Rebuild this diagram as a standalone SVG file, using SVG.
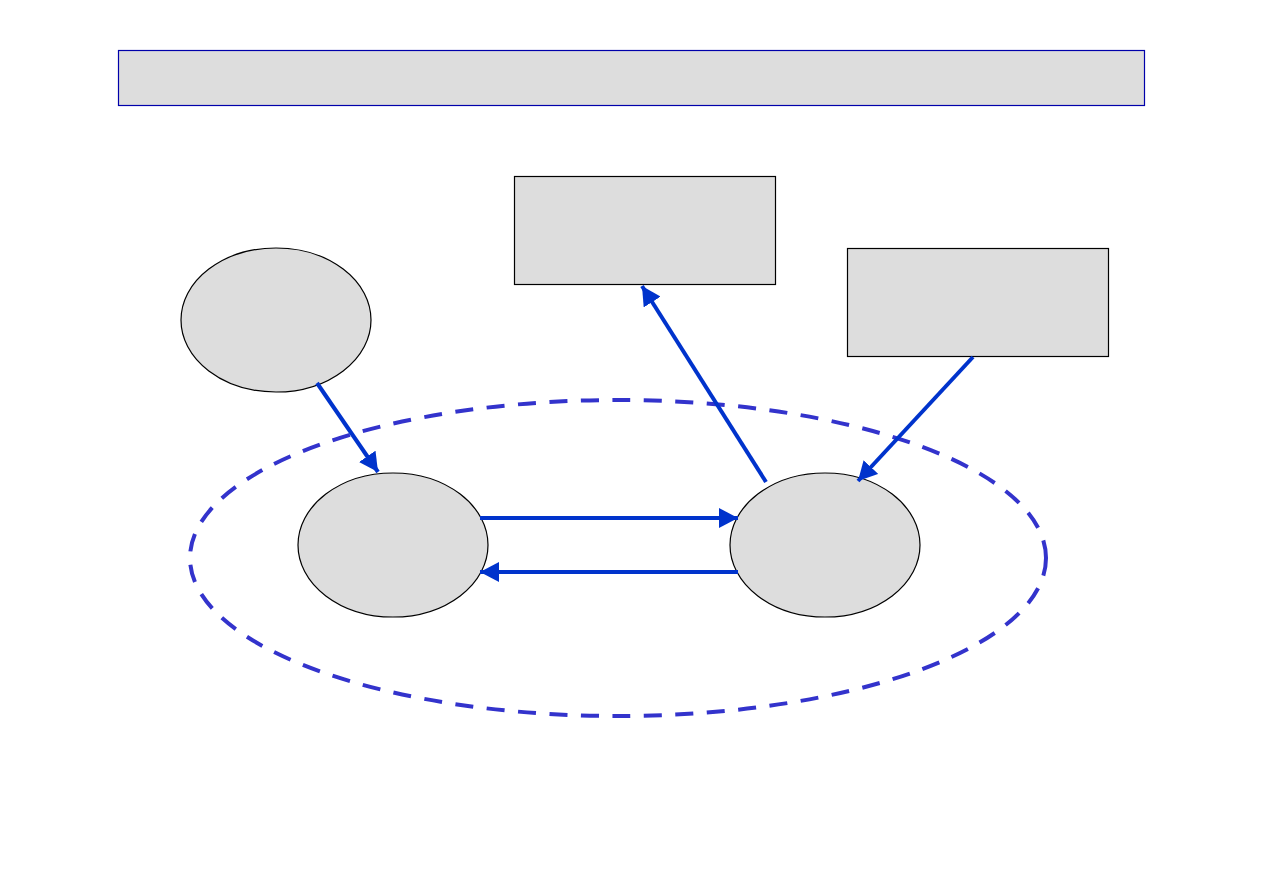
<svg xmlns="http://www.w3.org/2000/svg" width="1263" height="893" viewBox="0 0 1263 893">
<defs>
<style>
.node{fill:#dddddd;stroke:#000000;stroke-width:1.2}
.conn{stroke:#0033cc;stroke-width:4;fill:none;marker-end:url(#ah)}
</style>
<marker id="ah" markerUnits="userSpaceOnUse" markerWidth="20" markerHeight="20" refX="19" refY="10" orient="auto">
<path d="M0,0 L19,10 L0,20 Z" fill="#0033cc"/>
</marker>
</defs>
<rect width="1263" height="893" fill="#ffffff"/>
<g id="title"><rect x="118.5" y="50.5" width="1026" height="55" fill="#dddddd" stroke="#0000aa" stroke-width="1.2"/></g>
<g id="group"><ellipse cx="618" cy="558" rx="428" ry="158" fill="none" stroke="#3333cc" stroke-width="4" stroke-dasharray="18 13.5"/></g>
<g id="box1"><rect class="node" x="514.5" y="176.5" width="261" height="108"/></g>
<g id="box2"><rect class="node" x="847.5" y="248.5" width="261" height="108"/></g>
<g id="n1"><ellipse class="node" cx="276" cy="320" rx="95" ry="72"/></g>
<g id="n2"><ellipse class="node" cx="393" cy="545" rx="95" ry="72"/></g>
<g id="n3"><ellipse class="node" cx="825" cy="545" rx="95" ry="72"/></g>
<g id="connectors">
<line class="conn" x1="317" y1="383" x2="378" y2="472"/>
<line class="conn" x1="480" y1="518" x2="738" y2="518"/>
<line class="conn" x1="738" y1="572" x2="480" y2="572"/>
<line class="conn" x1="766" y1="482" x2="642" y2="286"/>
<line class="conn" x1="973" y1="357" x2="858" y2="481"/>
</g>
</svg>
